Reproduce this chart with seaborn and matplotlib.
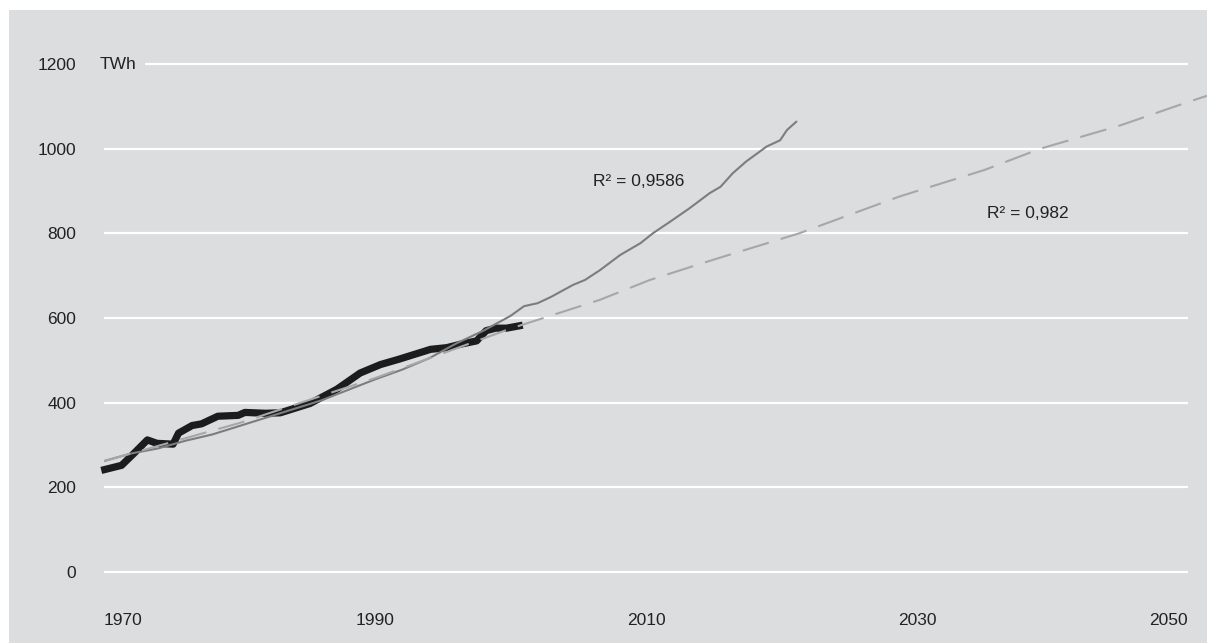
import matplotlib
matplotlib.use("Agg")
import matplotlib.pyplot as plt
from matplotlib.patches import Rectangle
import pandas as pd
import seaborn as sns

# Electricity demand, TWh: recorded series
hist_years = [1969.8, 1971.3, 1972.2, 1973.2, 1973.9, 1975.1, 1975.5, 1976.5, 1977.2,
              1978.4, 1979.9, 1980.4, 1981.9, 1983.0, 1985.2, 1987.2, 1988.9, 1990.4,
              1991.8, 1993.3, 1994.1, 1995.3, 1996.3, 1997.5, 1998.2, 1998.9, 1999.7,
              2000.9]
hist_twh = [240, 252, 280, 312, 304, 302, 328, 346, 350,
            368, 370, 377, 375, 376, 398, 432, 470, 490,
            503, 518, 526, 530, 538, 546, 570, 576, 576,
            583]

# Exponential trend (R2 = 0,9586)
exp_years = [1970, 1972, 1974, 1976, 1978, 1980, 1982, 1984, 1986, 1988, 1990, 1992,
             1994, 1996, 1998, 2000, 2001, 2002, 2003, 2004.6, 2005.5, 2006.6, 2008.1,
             2009.6, 2010.5, 2011.8, 2013.2, 2014.7, 2015.5, 2016.4, 2017.4, 2018.9,
             2019.9, 2020.4, 2021.1]
exp_twh = [262, 280, 292, 310, 325, 345, 365, 385, 405, 430, 455, 478,
           505, 540, 570, 605, 628, 635, 650, 678, 690, 713, 749,
           777, 800, 828, 859, 895, 910, 942, 970, 1005,
           1020, 1044, 1064]

# Polynomial trend (R2 = 0,982)
poly_years = [1970, 1980, 1990, 2000, 2006.6, 2010.3, 2015, 2021.3, 2028.7, 2035,
              2039.1, 2045, 2049.7, 2051.4]
poly_twh = [262, 352, 458, 575, 643, 690, 738, 800, 887, 950,
            1000, 1055, 1107, 1125]

x_ticks = [1970, 1990, 2010, 2030, 2050]
y_ticks = [0, 200, 400, 600, 800, 1000, 1200]
unit_label = "TWh"
r2_exp = "R² = 0,9586"
r2_poly = "R² = 0,982"

BG = "#dcdddf"

sns.set_style("white")
plt.rcParams["font.family"] = ["Liberation Sans", "DejaVu Sans"]
plt.rcParams["font.size"] = 12.5
plt.rcParams["text.color"] = "#222222"

W, H = 1207, 643
fig = plt.figure(figsize=(W / 100, H / 100), dpi=100, facecolor="white")
fig.add_artist(Rectangle((9 / W, 0), 1 - 9 / W, 1 - 10 / H, transform=fig.transFigure,
                         facecolor=BG, edgecolor="none", zorder=0))

ax = fig.add_axes([104 / W, 0, 1 - 104 / W, (H - 10) / H])
ax.set_facecolor("none")
ax.set_xlim(1970, 2051.4)
ax.set_ylim(-167.7, 1327.6)

# horizontal guide lines
ax.hlines(y_ticks, x_ticks[0], x_ticks[-1], colors="white", lw=1.6, zorder=1)

hist = pd.DataFrame({"year": hist_years, "twh": hist_twh})
expo = pd.DataFrame({"year": exp_years, "twh": exp_twh})
poly = pd.DataFrame({"year": poly_years, "twh": poly_twh})

sns.lineplot(data=hist, x="year", y="twh", ax=ax, color="#1c1c1c", lw=5.2,
             estimator=None, sort=False, zorder=3, clip_on=False,
             solid_capstyle="butt", solid_joinstyle="round")
sns.lineplot(data=expo, x="year", y="twh", ax=ax, color="#7d7d7d", lw=1.5,
             estimator=None, sort=False, zorder=4)
sns.lineplot(data=poly, x="year", y="twh", ax=ax, color="#a7a7a7", lw=1.5,
             estimator=None, sort=False, zorder=5, dashes=False,
             linestyle=(0, (13, 6)))

for s in ax.spines.values():
    s.set_visible(False)
ax.spines["bottom"].set_position(("data", 0))

ax.set_xticks(x_ticks)
ax.set_xticklabels([str(t) for t in x_ticks])
ax.set_yticks(y_ticks)
ax.set_yticklabels([str(t) for t in y_ticks])
ax.tick_params(axis="x", colors="white", length=4.3, width=1.6, direction="out",
               pad=25, labelcolor="#222222")
ax.tick_params(axis="y", length=0, pad=20, labelcolor="#222222")
labels = ax.get_xticklabels()
labels[0].set_ha("left")
labels[-1].set_ha("right")
ax.set_xlabel("")
ax.set_ylabel("")
ax.grid(False)

ax.text(1969.7, 1200, unit_label, ha="left", va="center",
        bbox=dict(facecolor=BG, edgecolor="none", pad=6))
ax.text(2006.1, 912, r2_exp, ha="left", va="baseline")
ax.text(2035.2, 836, r2_poly, ha="left", va="baseline")

fig.savefig("out.png", dpi=100, facecolor="white")
